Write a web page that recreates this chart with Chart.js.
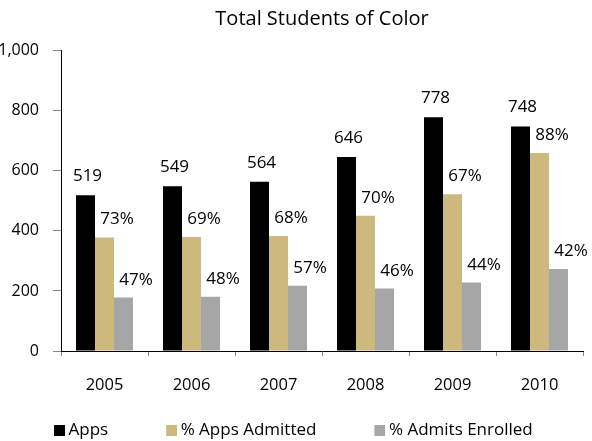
<!DOCTYPE html>
<html>
<head>
<meta charset="utf-8">
<script src="https://cdn.jsdelivr.net/npm/chart.js@4/dist/chart.umd.min.js"></script>
<style>
html,body{margin:0;padding:0;background:#fff;}
canvas{display:block;}
</style>
</head>
<body>
<canvas id="c" width="592" height="441"></canvas>
<script>
const years = ["2005", "2006", "2007", "2008", "2009", "2010"];
const apps = [519, 549, 564, 646, 778, 748];
const admitted = [378, 380, 383, 450, 522, 659];
const enrolled = [178, 181, 217, 208, 228, 273];
const admittedPct = ["73%", "69%", "68%", "70%", "67%", "88%"];
const enrolledPct = ["47%", "48%", "57%", "46%", "44%", "42%"];
const yTicks = [0, 200, 400, 600, 800, 1000];

const FONT = '"Open Sans", Lato, "DejaVu Sans", sans-serif';
const COLORS = ['#000000', '#CDB87D', '#A6A6A6'];

const labelPlugin = {
  id: 'barLabels',
  afterDatasetsDraw(chart) {
    const ctx = chart.ctx;
    ctx.save();
    ctx.font = '17px ' + FONT;
    ctx.fillStyle = '#000';
    ctx.textAlign = 'center';
    ctx.textBaseline = 'alphabetic';
    chart.data.datasets.forEach((ds, di) => {
      const meta = chart.getDatasetMeta(di);
      meta.data.forEach((bar, i) => {
        const txt = ds.labelTexts[i];
        const dx = di === 0 ? 2 : 12.5;
        const dy = di === 0 ? 14 : 13;
        ctx.fillText(txt, bar.x + dx, bar.y - dy);
      });
    });
    ctx.restore();
  }
};

// legend swatch: a small square placed at the right end of a transparent strip
function swatch(color) {
  const c = document.createElement('canvas');
  c.width = 47; c.height = 11;
  const g = c.getContext('2d');
  g.fillStyle = color;
  g.fillRect(36, 0, 11, 11);
  return c;
}

function draw() {
  Chart.defaults.font.family = FONT;
  Chart.defaults.color = '#000';
  const swatches = COLORS.map(swatch);
  new Chart(document.getElementById('c'), {
    type: 'bar',
    data: {
      labels: years,
      datasets: [
        { label: 'Apps', data: apps, backgroundColor: COLORS[0], labelTexts: apps.map(String) },
        { label: '% Apps Admitted', data: admitted, backgroundColor: COLORS[1], labelTexts: admittedPct },
        { label: '% Admits Enrolled', data: enrolled, backgroundColor: COLORS[2], labelTexts: enrolledPct }
      ]
    },
    options: {
      responsive: false,
      animation: false,
      events: [],
      layout: { padding: { left: -4, right: 9, top: 0, bottom: -8 } },
      datasets: { bar: { categoryPercentage: 0.655, barPercentage: 1.0, borderWidth: 0 } },
      plugins: {
        title: {
          display: true,
          fullSize: false,
          text: 'Total Students of Color',
          color: '#000',
          font: { size: 20, weight: 'normal', family: FONT },
          padding: { top: 7, bottom: 19.7 }
        },
        legend: {
          position: 'bottom',
          align: 'start',
          labels: {
            usePointStyle: true,
            pointStyleWidth: 37,
            boxHeight: 11,
            padding: 27,
            color: '#000',
            font: { size: 17, family: FONT },
            generateLabels(chart) {
              const items = Chart.defaults.plugins.legend.labels.generateLabels(chart);
              items.forEach(it => { it.pointStyle = swatches[it.datasetIndex]; });
              return items;
            }
          }
        },
        tooltip: { enabled: false }
      },
      scales: {
        x: {
          grid: { display: true, drawOnChartArea: false, drawTicks: true, tickLength: 5, color: '#888', offset: true },
          border: { display: true, color: '#000', width: 1 },
          ticks: { padding: 19, font: { size: 16.5 }, color: '#000' },
          afterFit(scale) { scale.height = 44; }
        },
        y: {
          min: 0,
          max: 1000,
          afterBuildTicks(scale) { scale.ticks = yTicks.map(v => ({ value: v })); },
          grid: { display: true, drawOnChartArea: false, drawTicks: true, tickLength: 8, color: '#888' },
          border: { display: true, color: '#000', width: 1 },
          ticks: { padding: 14, font: { size: 16 }, color: '#000',
                   callback: v => v.toLocaleString('en-US') },
          afterFit(scale) { scale.width = 65; }
        }
      }
    },
    plugins: [labelPlugin]
  });
}

if (document.fonts && document.fonts.load) {
  Promise.all([
    document.fonts.load('16px "Open Sans"'),
    document.fonts.load('17px "Open Sans"'),
    document.fonts.load('20px "Open Sans"')
  ]).then(draw, draw);
} else {
  draw();
}
</script>
</body>
</html>
